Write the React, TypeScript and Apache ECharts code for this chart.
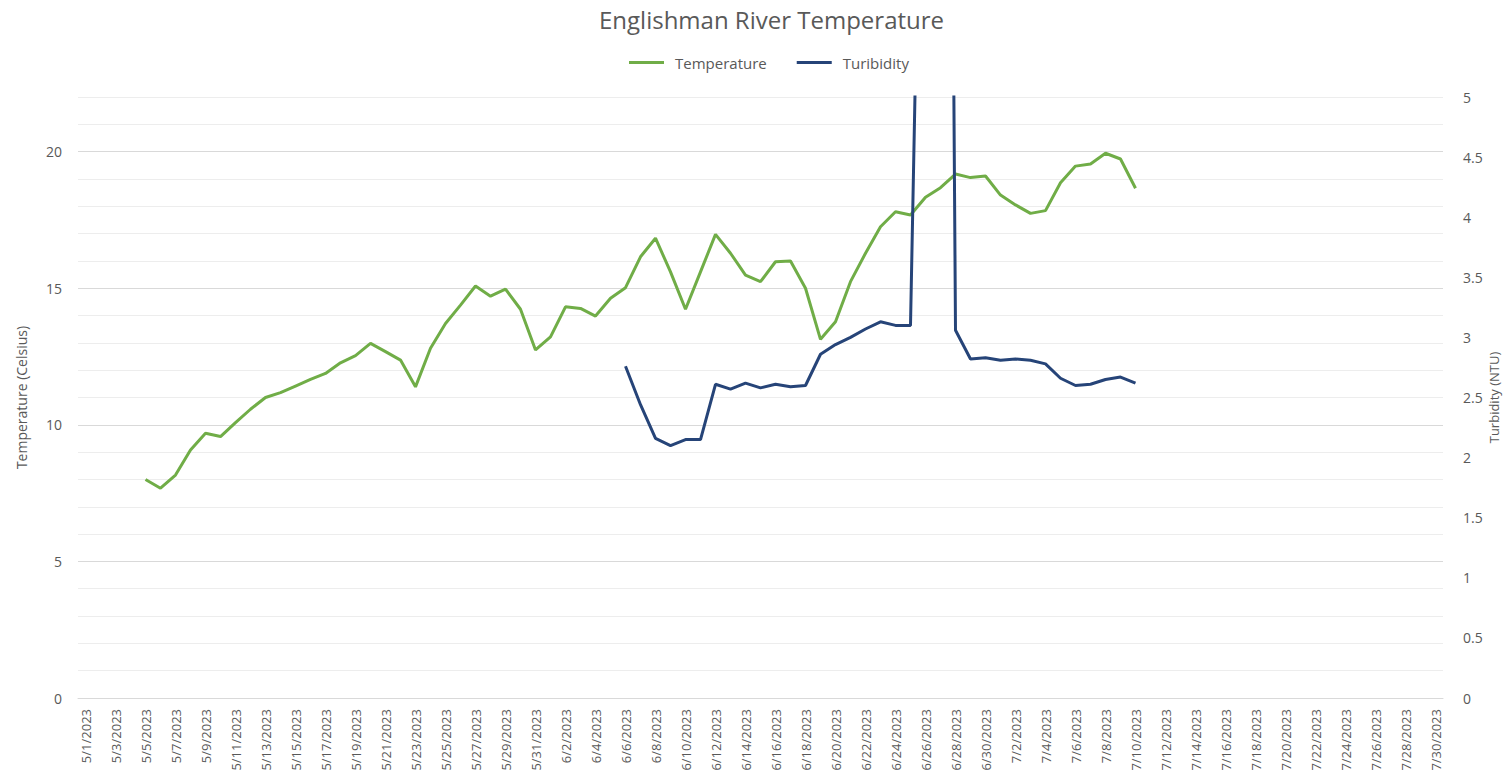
import React, { useEffect, useRef } from "react";
import * as echarts from "echarts";

const mayDays = Array.from({ length: 31 }, (_, i) => `5/${i + 1}/2023`);
const juneDays = Array.from({ length: 30 }, (_, i) => `6/${i + 1}/2023`);
const julyDays = Array.from({ length: 30 }, (_, i) => `7/${i + 1}/2023`);
const categories = [...mayDays, ...juneDays, ...julyDays];

// Temperature readings, 5/5/2023 .. 7/10/2023
const temperatureStart = "5/5/2023";
const temperatureValues = [
  8.0, 7.68, 8.16, 9.08, 9.69, 9.57, 10.08, 10.57, 11.0, 11.18, 11.42, 11.66, 11.88,
  12.27, 12.53, 12.98, 12.68, 12.37, 11.39, 12.8, 13.71, 14.38, 15.08, 14.71, 14.97,
  14.23, 12.74,
  13.22, 14.32, 14.26, 13.98, 14.63, 15.02, 16.15, 16.83, 15.6, 14.23, 15.6, 16.97,
  16.28, 15.48, 15.24, 15.97, 16.0, 15.0, 13.13, 13.77, 15.24, 16.28, 17.25, 17.8,
  17.68, 18.33, 18.68, 19.18, 19.05, 19.11,
  18.41, 18.05, 17.74, 17.84, 18.86, 19.47, 19.55, 19.94, 19.73, 18.66,
];

// Turbidity readings, 6/6/2023 .. 7/10/2023
const turbidityStart = "6/6/2023";
const turbidityValues = [
  2.76, 2.44, 2.16, 2.1, 2.15, 2.15, 2.61, 2.57, 2.62, 2.58, 2.61, 2.59, 2.6, 2.86,
  2.94, 3.0, 3.07, 3.13, 3.1, 3.1, 9.5, 21, 3.06, 2.82, 2.83,
  2.81, 2.82, 2.81, 2.78, 2.66, 2.6, 2.61, 2.65, 2.67, 2.62,
];

const leftTicks = { min: 0, max: 22, interval: 1, labelEvery: 5 };
const rightTicks = { min: 0, max: 5, interval: 0.5 };

function alignSeries(start: string, values: number[]) {
  const offset = categories.indexOf(start);
  return categories.map((_, i) => {
    const k = i - offset;
    return k >= 0 && k < values.length ? values[k] : null;
  });
}

const FONT = "'Open Sans', sans-serif";
const TEXT = "#595959";

export default function App() {
  const ref = useRef<HTMLDivElement>(null);
  useEffect(() => {
    document.body.style.margin = "0";
    if (!ref.current) return;
    const chart = echarts.init(ref.current, null, { renderer: "svg" });
    const minor = "#ededed";
    const major = "#d9d9d9";
    chart.setOption({
      animation: false,
      backgroundColor: "#ffffff",
      textStyle: { fontFamily: FONT },
      title: {
        text: "Englishman River Temperature",
        left: 594,
        top: 2,
        textStyle: { fontFamily: FONT, fontSize: 24, fontWeight: "normal", color: TEXT },
      },
      legend: {
        top: 50,
        left: 624,
        itemWidth: 35,
        itemHeight: 3,
        itemGap: 30,
        icon: "rect",
        textStyle: { fontFamily: FONT, fontSize: 15, color: TEXT, padding: [0, 0, 0, 6] },
        data: ["Temperature", "Turibidity"],
      },
      grid: { left: 78, right: 60, top: 97, bottom: 85, containLabel: false, outerBoundsMode: "none" },
      xAxis: {
        type: "category",
        data: categories,
        boundaryGap: true,
        axisLine: { show: true, lineStyle: { color: major } },
        axisTick: { show: false },
        axisLabel: {
          interval: 1,
          rotate: 90,
          fontFamily: FONT,
          fontSize: 13,
          color: TEXT,
          margin: 11,
        },
        splitLine: { show: false },
      },
      yAxis: [
        {
          type: "value",
          min: leftTicks.min,
          max: leftTicks.max,
          interval: leftTicks.interval,
          name: "Temperature (Celsius)",
          nameLocation: "middle",
          nameGap: 50,
          nameTextStyle: { fontFamily: FONT, fontSize: 14, color: TEXT },
          axisLine: { show: false },
          axisTick: { show: false },
          axisLabel: {
            interval: leftTicks.labelEvery - 1,
            formatter: (v: number) => (v % leftTicks.labelEvery === 0 ? String(v) : ""),
            fontFamily: FONT,
            fontSize: 14,
            color: TEXT,
            margin: 16,
          },
          splitLine: {
            show: true,
            lineStyle: { color: [major, minor, minor, minor, minor], width: 1 },
          },
        },
        {
          type: "value",
          min: rightTicks.min,
          max: rightTicks.max,
          interval: rightTicks.interval,
          name: "Turbidity (NTU)",
          nameLocation: "middle",
          nameGap: 51,
          nameRotate: 90,
          nameMoveOverlap: false,
          nameTextStyle: { fontFamily: FONT, fontSize: 13, color: TEXT, verticalAlign: "middle" },
          axisLine: { show: false },
          axisTick: { show: false },
          axisLabel: { fontFamily: FONT, fontSize: 14, color: TEXT, margin: 20 },
          splitLine: { show: false },
        },
      ],
      series: [
        {
          name: "Temperature",
          type: "line",
          yAxisIndex: 0,
          data: alignSeries(temperatureStart, temperatureValues),
          showSymbol: false,
          symbol: "none",
          color: "#70ad47",
          lineStyle: { color: "#70ad47", width: 3 },
          clip: true,
        },
        {
          name: "Turibidity",
          type: "line",
          yAxisIndex: 1,
          data: alignSeries(turbidityStart, turbidityValues),
          showSymbol: false,
          symbol: "none",
          color: "#264478",
          lineStyle: { color: "#264478", width: 3 },
          clip: true,
        },
      ],
    });
    return () => chart.dispose();
  }, []);
  return <div ref={ref} style={{ width: 1503, height: 783 }} />;
}
